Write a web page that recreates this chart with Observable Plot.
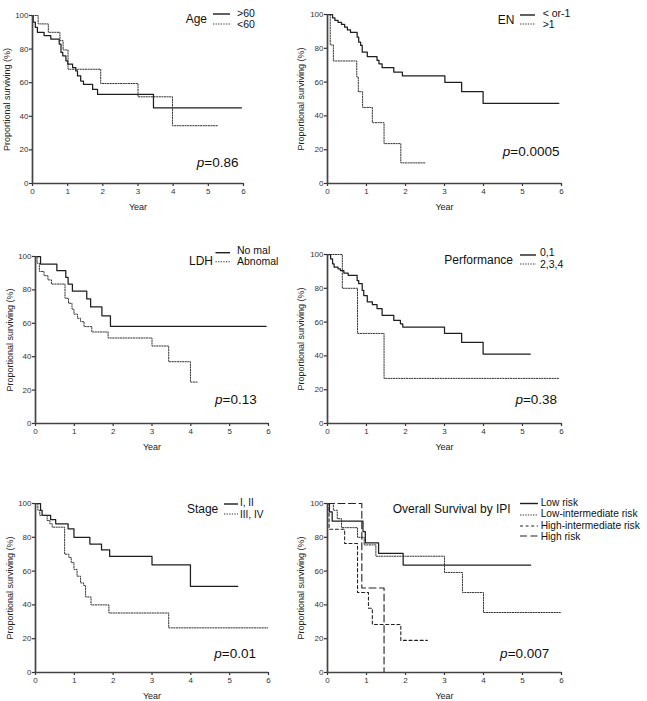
<!DOCTYPE html>
<html><head><meta charset="utf-8">
<script src="https://cdn.jsdelivr.net/npm/d3@7"></script>
<script src="https://cdn.jsdelivr.net/npm/@observablehq/plot@0.6"></script>
<style>
body{margin:0;background:#fff;}
#root{position:relative;width:647px;height:701px;overflow:hidden;font-family:"Liberation Sans",Arial,sans-serif;}
#root svg{position:absolute;}
</style></head><body><div id="root"></div>
<script>
// ---- Axis ticks & labels ----
const yearTicks = [0, 1, 2, 3, 4, 5, 6];
const percentTicks = [0, 20, 40, 60, 80, 100];
const yTitle = "Proportional surviving (%)";
const xTitle = "Year";

// ---- Kaplan-Meier step data: [year, % surviving] ----
const ageOver60 = [[0,100],[0.02,96],[0.08,93],[0.14,90],[0.33,88],[0.52,86],[0.76,83],[0.81,78],[0.86,76],[0.95,73],[1.0,71],[1.14,69],[1.23,67],[1.28,64],[1.37,61],[1.45,59],[1.71,56],[1.85,53],[3.44,45],[5.94,45]];
const ageUnder60 = [[0,100],[0.16,95],[0.45,90],[0.78,85],[0.87,79.5],[1.01,68],[1.94,59.5],[3.0,51.6],[3.98,34.4],[5.26,34.4]];

const enLow = [[0,100],[0.13,98],[0.19,96.5],[0.27,95.3],[0.36,94.1],[0.44,92.5],[0.51,90.9],[0.59,89.4],[0.76,86.6],[0.8,83.6],[0.85,81.7],[0.89,77.7],[1.02,75.1],[1.27,72.8],[1.32,70.8],[1.4,68.5],[1.7,65.9],[1.92,63.7],[3.01,59.8],[3.44,54.3],[3.99,47.4],[5.93,47.4]];
const enHigh = [[0,100],[0.07,82],[0.15,72.5],[0.75,63],[0.79,54.3],[0.9,45],[1.15,36],[1.45,23.6],[1.88,12.2],[2.52,12.2]];

const ldhNormal = [[0,100],[0.13,95.5],[0.55,91.5],[0.78,87.5],[0.84,83.5],[0.95,79.3],[1.32,74.6],[1.42,69.8],[1.71,64.5],[1.93,58.2],[5.94,58.2]];
const ldhAbnormal = [[0,100],[0.04,96],[0.1,91],[0.22,88.5],[0.32,86],[0.41,83.5],[0.76,75],[0.85,72],[0.94,68.5],[0.99,65.5],[1.08,63],[1.16,61],[1.25,58],[1.45,54.8],[1.87,51.2],[3.0,46.4],[3.43,37],[3.99,24.8],[4.18,24.8]];

const perf01 = [[0,100],[0.08,97.4],[0.13,94.5],[0.17,92.5],[0.27,91.5],[0.33,90.5],[0.42,89],[0.53,87.6],[0.76,84.6],[0.8,82.7],[0.89,78.7],[0.93,75.7],[1.02,72],[1.15,70.4],[1.27,68],[1.4,64],[1.7,61],[1.87,59],[1.93,57.1],[3.0,53.4],[3.44,48],[3.99,41.1],[5.2,41.1]];
const perf234 = [[0,100],[0.38,80],[0.77,53.3],[1.45,26.7],[5.95,26.7]];

const stageEarly = [[0,100],[0.13,96],[0.17,93],[0.39,90.5],[0.52,88],[0.84,85],[0.99,80],[1.4,76],[1.7,72.5],[1.91,68.7],[3.0,63.7],[3.99,51],[5.21,51]];
const stageLate = [[0,100],[0.06,96],[0.11,93],[0.3,90],[0.37,88],[0.43,86],[0.75,70],[0.86,68],[0.92,65],[0.99,61],[1.07,57],[1.16,53],[1.24,51.5],[1.29,44.7],[1.43,40],[1.89,35.2],[3.43,26.4],[5.98,26.4]];

const ipiLow = [[0,100],[0.05,95],[0.12,89.5],[0.91,83.4],[0.97,76.7],[1.31,70.5],[1.94,63.6],[5.21,63.6]];
const ipiLowInt = [[0,100],[0.15,96],[0.25,91],[0.36,85.7],[0.77,80],[0.94,75.5],[1.24,68.8],[3.0,59.2],[3.46,47.3],[4.0,35.5],[5.98,35.5]];
const ipiHighInt = [[0,100],[0.04,84.8],[0.44,76.3],[0.77,47.3],[1.05,38],[1.15,28.4],[1.88,19],[2.56,19]];
const ipiHigh = [[0,100],[0.88,50],[1.45,0]];

// ---- Texts ----
const panelTitles = ["Age", "EN", "LDH", "Performance", "Stage", "Overall Survival by IPI"];
const pValues = ["0.86", "0.0005", "0.13", "0.38", "0.01", "0.007"];
const ageLabels = [">60", "<60"];
const enLabels = ["< or-1", ">1"];
const ldhLabels = ["No mal", "Abnomal"];
const perfLabels = ["0,1", "2,3,4"];
const stageLabels = ["I, II", "III, IV"];
const ipiLabels = ["Low risk", "Low-intermediate risk", "High-intermediate risk", "High risk"];

// ---- Styles ----
const STYLES = {
  solid:    {stroke: "#1e1e1e", strokeWidth: 1.25, dash: null},
  dotted:   {stroke: "#333", strokeWidth: 1, dash: "1.3,1.3"},
  dashed:   {stroke: "#222", strokeWidth: 1.1, dash: "3,2.6"},
  longdash: {stroke: "#222", strokeWidth: 1.1, dash: "7,3.5"}
};
const FONT = "Liberation Sans, Arial, sans-serif";

const panels = [
  {left: 0, top: 0, w: 290, h: 230, m: [15, 47, 47, 32], title: panelTitles[0], p: pValues[0], pPos: [5.87, 12.7],
   series: [[ageOver60, ageLabels[0], "solid"], [ageUnder60, ageLabels[1], "dotted"]],
   lg: {tr: 207, ty: 19.3, lx1: 213, lx2: 230, ly: [14, 24], tx: 237, tys: [12.5, 23.5], fs: 10.5}, ydx: -25},
  {left: 290, top: 0, w: 357, h: 230, m: [14, 86, 47, 37], title: panelTitles[1], p: pValues[1], pPos: [5.96, 19.1],
   series: [[enLow, enLabels[0], "solid"], [enHigh, enLabels[1], "dotted"]],
   lg: {tr: 224.4, ty: 20, lx1: 230, lx2: 245, ly: [15, 24], tx: 252.7, tys: [12.7, 24], fs: 10.5}, ydx: -26.5},
  {left: 0, top: 230, w: 290, h: 230, m: [26, 22, 37, 35], title: panelTitles[2], p: pValues[2], pPos: [5.71, 14.2],
   series: [[ldhNormal, ldhLabels[0], "solid"], [ldhAbnormal, ldhLabels[1], "dotted"]],
   lg: {tr: 213, ty: 30.7, lx1: 215.5, lx2: 230, ly: [22.7, 31.7], tx: 237, tys: [20, 31], fs: 10.5}, ydx: -25},
  {left: 290, top: 230, w: 357, h: 230, m: [24, 86, 37, 37], title: panelTitles[3], p: pValues[3], pPos: [5.9, 14.2],
   series: [[perf01, perfLabels[0], "solid"], [perf234, perfLabels[1], "dotted"]],
   lg: {tr: 223, ty: 30, lx1: 230, lx2: 246, ly: [25, 34], tx: 250, tys: [22, 34], fs: 10.5}, ydx: -26.5},
  {left: 0, top: 460, w: 290, h: 241, m: [43, 22, 29, 35], title: panelTitles[4], p: pValues[4], pPos: [5.69, 11.4],
   series: [[stageEarly, stageLabels[0], "solid"], [stageLate, stageLabels[1], "dotted"]],
   lg: {tr: 218.3, ty: 49.3, lx1: 224, lx2: 238, ly: [44, 54], tx: 240, tys: [42.6, 54], fs: 10}, ydx: -25},
  {left: 290, top: 460, w: 357, h: 241, m: [43, 86, 29, 37], title: panelTitles[5], p: pValues[5], pPos: [5.7, 11.4],
   series: [[ipiLow, ipiLabels[0], "solid"], [ipiLowInt, ipiLabels[1], "dotted"], [ipiHighInt, ipiLabels[2], "dashed"], [ipiHigh, ipiLabels[3], "longdash"]],
   lg: {tr: 220.7, ty: 49, lx1: 230, lx2: 248, ly: [43.5, 55, 66, 76], tx: 250.7, tys: [42.2, 53.6, 65, 76.4], fs: 10.2}, ydx: -26.5}
];

const root = document.getElementById("root");

panels.forEach(P => {
  const [mt, mr, mb, ml] = P.m;
  const marks = [
    Plot.axisX({ticks: yearTicks, tickSize: 3, tickPadding: 2, fontSize: 8, label: null, tickFormat: d => String(d), strokeWidth: 1.2}),
    Plot.axisY({ticks: percentTicks, tickSize: 3, tickPadding: 1, fontSize: 8, label: null, tickFormat: d => String(d), strokeWidth: 1.2}),
    ...P.series.map(([data, , st]) => Plot.line(data, {
      x: d => d[0], y: d => d[1], curve: "step-after",
      stroke: STYLES[st].stroke, strokeWidth: STYLES[st].strokeWidth,
      strokeDasharray: STYLES[st].dash || undefined
    })),
    Plot.ruleX([0], {stroke: "#444", strokeWidth: 1.7}),
    Plot.ruleY([0], {stroke: "#444", strokeWidth: 1.7}),
    Plot.text([xTitle], {frameAnchor: "bottom", dy: 24, text: d => d, fontSize: 9, textAnchor: "middle", lineAnchor: "middle", fill: "#222"}),
    Plot.text([yTitle], {frameAnchor: "left", dx: P.ydx, rotate: -90, text: d => d, fontSize: 9, textAnchor: "middle", lineAnchor: "middle", fill: "#222"})
  ];
  const svg = Plot.plot({
    width: P.w, height: P.h,
    marginTop: mt, marginRight: mr, marginBottom: mb, marginLeft: ml,
    x: {domain: [0, 6]},
    y: {domain: [0, 100]},
    style: {fontFamily: FONT, fontSize: "8px", color: "#333", background: "transparent", overflow: "visible"},
    marks
  });
  svg.style.left = P.left + "px";
  svg.style.top = P.top + "px";
  root.appendChild(svg);

  const g = d3.select(svg).append("g").attr("font-family", FONT).attr("fill", "#111").attr("text-anchor", "start");
  const L = P.lg;
  g.append("text").attr("x", L.tr).attr("y", L.ty).attr("text-anchor", "end")
    .attr("dominant-baseline", "central").attr("font-size", 12).text(P.title);
  P.series.forEach(([, label, st], i) => {
    const S = STYLES[st];
    g.append("line").attr("x1", L.lx1).attr("x2", L.lx2).attr("y1", L.ly[i]).attr("y2", L.ly[i])
      .attr("stroke", S.stroke).attr("stroke-width", st === "solid" ? 1.4 : 1.1)
      .attr("stroke-dasharray", S.dash);
    g.append("text").attr("x", L.tx).attr("y", L.tys[i]).attr("text-anchor", "start").attr("dominant-baseline", "central")
      .attr("font-size", L.fs).text(label);
  });
  const xs = svg.scale("x"), ys = svg.scale("y");
  const t = g.append("text").attr("x", xs.apply(P.pPos[0])).attr("y", ys.apply(P.pPos[1]))
    .attr("text-anchor", "end").attr("dominant-baseline", "central").attr("font-size", 13.5);
  t.append("tspan").attr("font-style", "italic").text("p");
  t.append("tspan").text("=" + P.p);
});
</script>
</body></html>
